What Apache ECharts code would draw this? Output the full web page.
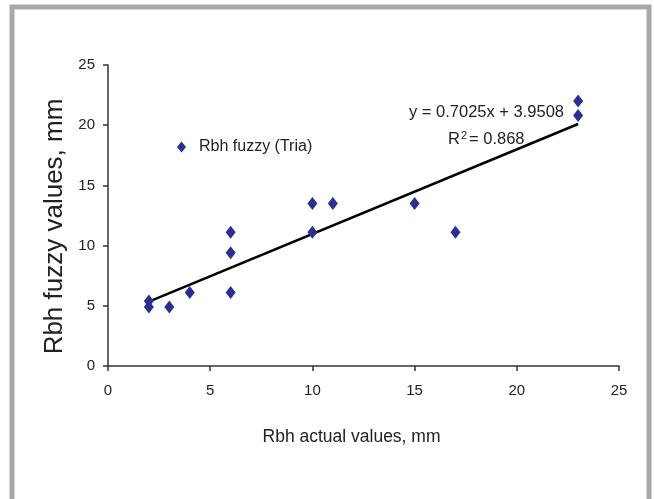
<!DOCTYPE html>
<html>
<head>
<meta charset="utf-8">
<script src="https://cdn.jsdelivr.net/npm/echarts@6/dist/echarts.min.js"></script>
<style>
  html, body { margin: 0; padding: 0; background: #fff; }
  #main { width: 654px; height: 499px; }
</style>
</head>
<body>
<div id="main"></div>
<script>
// data
var actual = [2, 2, 3, 4, 6, 6, 6, 10, 10, 11, 15, 17, 23, 23]
var fuzzy = [5.4, 4.9, 4.9, 6.1, 6.1, 9.4, 11.1, 11.1, 13.5, 13.5, 13.5, 11.1, 22.0, 20.8]
// trend line end points (x, y)
var trendX = [2, 23]
var trendY = [5.35, 20.1]
var xTicks = [0, 5, 10, 15, 20, 25]
var yTicks = [0, 5, 10, 15, 20, 25]

var myChart = echarts.init(document.getElementById('main'))
var font = '"Liberation Sans", Arial, sans-serif'

var points = actual.map(function (x, i) { return [x, fuzzy[i]] })
var line = trendX.map(function (x, i) { return [x, trendY[i]] })

var option = {
  animation: false,
  textStyle: { fontFamily: font },
  grid: { left: 108, right: 35, top: 65, bottom: 133 },
  legend: {
    left: 172, top: 134,
    itemWidth: 9, itemHeight: 11,
    data: ['Rbh fuzzy (Tria)'],
    textStyle: { fontSize: 16, color: '#222', fontFamily: font, padding: [0, 0, 0, 8] }
  },
  xAxis: {
    type: 'value', min: xTicks[0], max: xTicks[xTicks.length - 1], interval: 5,
    name: 'Rbh actual values, mm', nameLocation: 'middle', nameGap: 62,
    nameTextStyle: { fontSize: 17.5, color: '#222', fontFamily: font, padding: [0, 24, 0, 0] },
    splitLine: { show: false },
    axisLine: { lineStyle: { color: '#333', width: 1.5 } },
    axisTick: { show: true, length: 5, lineStyle: { color: '#333', width: 1.5 } },
    axisLabel: { fontSize: 15, color: '#222', margin: 17 }
  },
  yAxis: {
    type: 'value', min: yTicks[0], max: yTicks[yTicks.length - 1], interval: 5,
    name: 'Rbh fuzzy values, mm', nameLocation: 'middle', nameGap: 37,
    nameTextStyle: { fontSize: 26, color: '#222', fontFamily: font, padding: [0, 22, 0, 0] },
    splitLine: { show: false },
    axisLine: { show: true, lineStyle: { color: '#333', width: 1.5 } },
    axisTick: { show: true, length: 5, lineStyle: { color: '#333', width: 1.5 } },
    axisLabel: { fontSize: 15, color: '#222', margin: 13 }
  },
  series: [
    {
      name: 'Rbh fuzzy (Tria)',
      type: 'scatter',
      symbol: 'diamond',
      symbolSize: [10, 13],
      itemStyle: { color: '#2b2f8f', opacity: 1 },
      data: points,
      z: 3
    },
    {
      name: 'trend',
      type: 'line',
      symbol: 'none',
      lineStyle: { color: '#000', width: 2.5 },
      data: line,
      z: 2
    }
  ],
  graphic: [
    {
      type: 'rect', silent: true,
      shape: { x: 12, y: 7, width: 637, height: 500 },
      style: { fill: 'none', stroke: '#a7a9ac', lineWidth: 5 }
    },
    {
      type: 'text', left: 409, top: 104,
      style: { text: 'y = 0.7025x + 3.9508', fontSize: 16.5, fill: '#222', fontFamily: font }
    },
    {
      type: 'text', left: 448, top: 130,
      style: {
        text: 'R{sup|2}= 0.868',
        fontSize: 16.5, fill: '#222', fontFamily: font,
        rich: { sup: { fontSize: 11, verticalAlign: 'top', padding: [0, 2, 8, 1], fill: '#222', fontFamily: font } }
      }
    }
  ]
}
myChart.setOption(option)
</script>
</body>
</html>
